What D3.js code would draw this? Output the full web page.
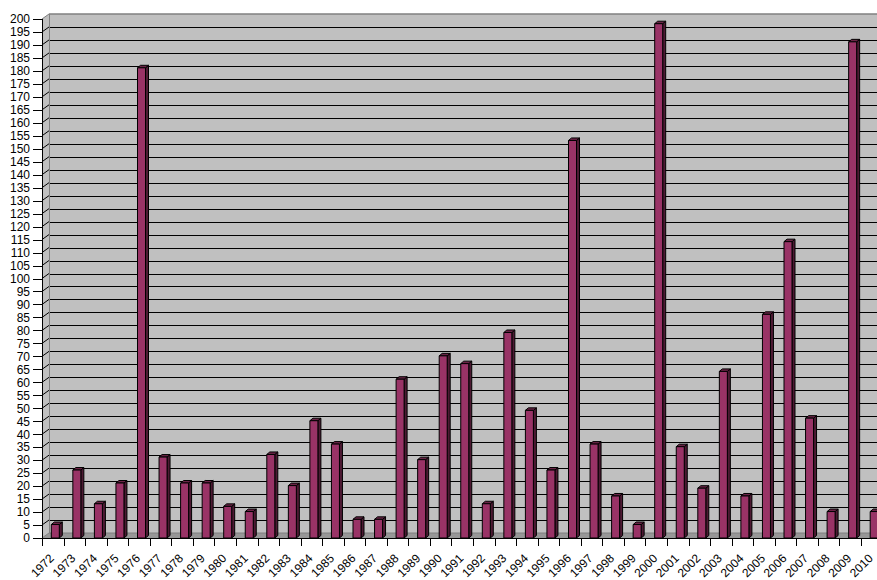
<!DOCTYPE html>
<html>
<head>
<meta charset="utf-8">
<script src="https://cdn.jsdelivr.net/npm/d3@7"></script>
<style>
  html, body { margin: 0; padding: 0; background: #ffffff; }
  svg { display: block; }
  text { font-family: "Liberation Sans", Arial, sans-serif; font-size: 12px; fill: #000; }
</style>
</head>
<body>
<svg id="chart" width="877" height="580"></svg>
<script>
// Yearly counts, 1972–2010
const years = [
  "1972","1973","1974","1975","1976","1977","1978","1979","1980","1981",
  "1982","1983","1984","1985","1986","1987","1988","1989","1990","1991",
  "1992","1993","1994","1995","1996","1997","1998","1999","2000","2001",
  "2002","2003","2004","2005","2006","2007","2008","2009","2010"
];
const counts = [
  5, 26, 13, 21, 181, 31, 21, 21, 12, 10,
  32, 20, 45, 36, 7, 7, 61, 30, 70, 67,
  13, 79, 49, 26, 153, 36, 16, 5, 198, 35,
  19, 64, 16, 86, 114, 46, 10, 191, 10
];
const yTicks = d3.range(0, 201, 5);

const svg = d3.select("#chart");

// Plot geometry: front plane plus a shallow 3-D depth offset
const x0 = 42, yBase = 538, yTop = 19;
const step = 21.55;
const depthX = 7, depthY = -5;
const barDX = 3, barDY = -2.5;

const x = d3.scaleBand()
  .domain(years)
  .range([x0, x0 + step * years.length])
  .paddingInner(0).paddingOuter(0);
const y = d3.scaleLinear().domain([0, 200]).range([yBase, yTop]);

const xEnd = x0 + step * years.length;
const wallTop = y(200) + depthY;
const floorY = y(0) + depthY;

// Back wall
svg.append("rect")
  .attr("x", x0 + depthX).attr("y", wallTop)
  .attr("width", 900 - (x0 + depthX)).attr("height", floorY - wallTop)
  .attr("fill", "#c0c0c0");

// Side wall
svg.append("polygon")
  .attr("points", [[x0, y(0)], [x0 + depthX, floorY], [x0 + depthX, wallTop], [x0, y(200)]].join(" "))
  .attr("fill", "#c0c0c0");

// Floor
svg.append("polygon")
  .attr("points", [[x0, y(0)], [xEnd + 20, y(0)], [xEnd + 20 + depthX, floorY], [x0 + depthX, floorY]].join(" "))
  .attr("fill", "#979797");

// Gridlines on the back and side walls
const grid = svg.append("g").attr("stroke", "#000").attr("stroke-width", 1);
yTicks.filter(v => v > 0 && v < 200).forEach(v => {
  const yy = Math.round(y(v) + depthY) + 0.5;
  grid.append("line")
    .attr("x1", x0 + depthX).attr("x2", 900)
    .attr("y1", yy).attr("y2", yy);
  grid.append("line")
    .attr("x1", x0).attr("y1", y(v))
    .attr("x2", x0 + depthX).attr("y2", y(v) + depthY);
});

// Wall edges
const edges = svg.append("g").attr("stroke", "#808080").attr("fill", "none");
edges.append("line")
  .attr("x1", x0 + depthX).attr("x2", 900)
  .attr("y1", wallTop).attr("y2", wallTop).attr("stroke-width", 1.5);
edges.append("line")
  .attr("x1", x0 + depthX + 0.5).attr("x2", x0 + depthX + 0.5)
  .attr("y1", wallTop).attr("y2", floorY);
edges.append("line")
  .attr("x1", x0).attr("y1", y(200))
  .attr("x2", x0 + depthX).attr("y2", wallTop);
edges.append("line")
  .attr("x1", x0).attr("y1", y(0))
  .attr("x2", x0 + depthX).attr("y2", floorY);
edges.append("line")
  .attr("x1", x0 + depthX).attr("x2", 900)
  .attr("y1", floorY).attr("y2", floorY);

// Bars: front face, side face, top face
const barOffset = 9.3, barW = 8;
const bars = svg.append("g").attr("stroke", "#000").attr("stroke-width", 1)
  .attr("stroke-linejoin", "round");
years.forEach((yr, i) => {
  const v = counts[i];
  const bx = x(yr) + barOffset;
  const by = y(v) - 0.5;
  const bb = y(0);
  // side
  bars.append("polygon")
    .attr("points", [[bx + barW, by], [bx + barW + barDX, by + barDY], [bx + barW + barDX, bb + barDY], [bx + barW, bb]].join(" "))
    .attr("fill", "#4d1a33");
  // top
  bars.append("polygon")
    .attr("points", [[bx, by], [bx + barDX, by + barDY], [bx + barW + barDX, by + barDY], [bx + barW, by]].join(" "))
    .attr("fill", "#6b2447");
  // front
  bars.append("rect")
    .attr("x", bx).attr("y", by)
    .attr("width", barW).attr("height", bb - by)
    .attr("fill", "#993366");
});

// Value axis
const yAxis = svg.append("g");
yAxis.append("line")
  .attr("x1", x0 + 0.5).attr("x2", x0 + 0.5)
  .attr("y1", y(200)).attr("y2", y(0))
  .attr("stroke", "#000");
yTicks.forEach(v => {
  yAxis.append("line")
    .attr("x1", x0 - 9).attr("x2", x0)
    .attr("y1", Math.round(y(v)) + 0.5).attr("y2", Math.round(y(v)) + 0.5)
    .attr("stroke", "#000");
  yAxis.append("text")
    .attr("x", x0 - 12).attr("y", y(v))
    .attr("dy", "0.36em")
    .attr("text-anchor", "end")
    .text(v);
});

// Category axis
const xAxis = svg.append("g");
xAxis.append("line")
  .attr("x1", x0).attr("x2", 900)
  .attr("y1", yBase + 0.5).attr("y2", yBase + 0.5)
  .attr("stroke", "#000");
years.concat(["_end"]).forEach((yr, i) => {
  const xx = Math.round(x0 + i * step) + 0.5;
  xAxis.append("line")
    .attr("x1", xx).attr("x2", xx)
    .attr("y1", yBase).attr("y2", yBase + 8)
    .attr("stroke", "#000");
});
years.forEach(yr => {
  const cx = x(yr) + x.bandwidth() / 2 + 2;
  xAxis.append("text")
    .attr("transform", `translate(${cx},${yBase + 21}) rotate(-45)`)
    .attr("text-anchor", "end")
    .text(yr);
});
</script>
</body>
</html>
